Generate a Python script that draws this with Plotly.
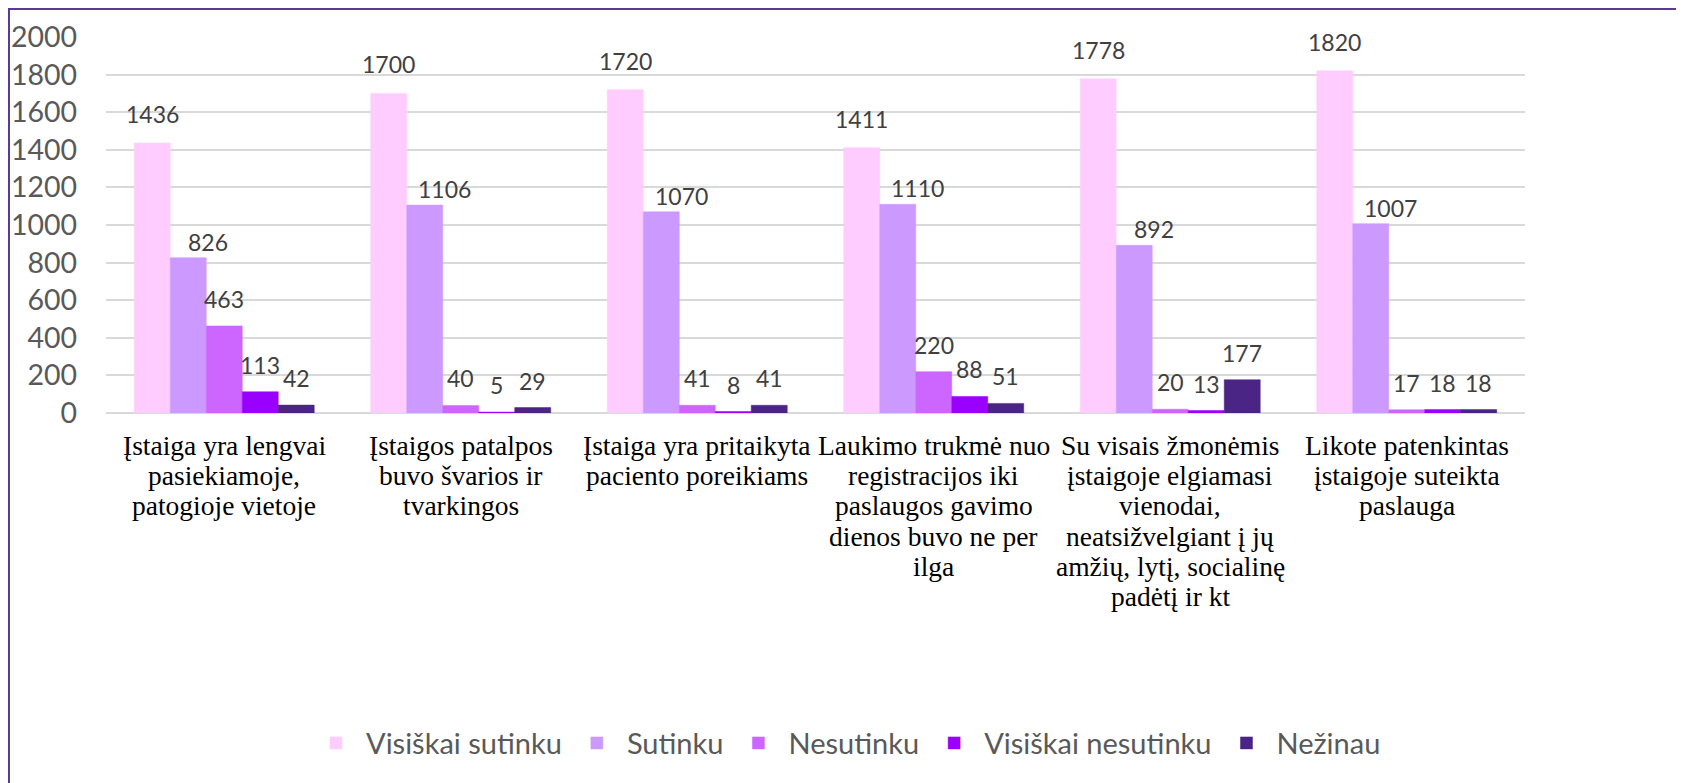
import plotly.graph_objects as go

categories = [
    "Įstaiga yra lengvai<br>pasiekiamoje,<br>patogioje vietoje",
    "Įstaigos patalpos<br>buvo švarios ir<br>tvarkingos",
    "Įstaiga yra pritaikyta<br>paciento poreikiams",
    "Laukimo trukmė nuo<br>registracijos iki<br>paslaugos gavimo<br>dienos buvo ne per<br>ilga",
    "Su visais žmonėmis<br>įstaigoje elgiamasi<br>vienodai,<br>neatsižvelgiant į jų<br>amžių, lytį, socialinę<br>padėtį ir kt",
    "Likote patenkintas<br>įstaigoje suteikta<br>paslauga",
]

series_names = ["Visiškai sutinku", "Sutinku", "Nesutinku", "Visiškai nesutinku", "Nežinau"]
visiskai_sutinku = [1436, 1700, 1720, 1411, 1778, 1820]
sutinku = [826, 1106, 1070, 1110, 892, 1007]
nesutinku = [463, 40, 41, 220, 20, 17]
visiskai_nesutinku = [113, 5, 8, 88, 13, 18]
nezinau = [42, 29, 41, 51, 177, 18]
series_values = [visiskai_sutinku, sutinku, nesutinku, visiskai_nesutinku, nezinau]
colors = ["#FFCCFF", "#CC99FF", "#CC66FF", "#9900FF", "#4B2585"]

y_ticks = [0, 200, 400, 600, 800, 1000, 1200, 1400, 1600, 1800, 2000]

# styling (page offset of 8px from the html body margin is compensated)
OFF = 8
W, H = 1684 - OFF, 783 - OFF
ML = 106 - OFF
PW = 1419
MR = W - ML - PW
MT = 37 - OFF
PH = 413.5 - 37
MB = H - MT - PH
BARGAP = 0.239
label_shift = {"Visiškai sutinku": (0, 29), "Sutinku": (20, 16)}   # (xshift, yshift) px
default_shift = (0, 27)
LINE_H = 30.2
FIRST_LINE = 446 - 413.5

fig = go.Figure()
for name, vals, col in zip(series_names, series_values, colors):
    fig.add_trace(go.Bar(
        name=name, x=categories, y=vals,
        marker=dict(color=col, line=dict(width=0.5, color=col)),
        hoverinfo="x+y",
    ))

annotations = []
n = len(series_names)
w = (1 - BARGAP) / n
for j, (name, vals) in enumerate(zip(series_names, series_values)):
    xs, ys = label_shift.get(name, default_shift)
    for i, v in enumerate(vals):
        annotations.append(dict(
            x=i + (j - (n - 1) / 2) * w, y=v, xref="x", yref="y",
            text=str(v), showarrow=False, xanchor="center", yanchor="middle",
            xshift=xs, yshift=ys,
            font=dict(family="Lato", size=23, color="#404040"),
        ))

for i, cat in enumerate(categories):
    for k, line in enumerate(cat.split("<br>")):
        annotations.append(dict(
            x=i, y=0, xref="x", yref="paper", text=line, showarrow=False,
            xanchor="center", yanchor="middle",
            yshift=-(FIRST_LINE + k * LINE_H),
            font=dict(family="Liberation Serif", size=27.5, color="black"),
        ))

fig.update_layout(
    width=W, height=H, autosize=False,
    margin=dict(l=ML, r=MR, t=MT, b=MB, pad=0, autoexpand=False),
    paper_bgcolor="white", plot_bgcolor="white",
    barmode="group", bargap=BARGAP, bargroupgap=0,
    showlegend=True,
    legend=dict(orientation="h", x=(846 - OFF - ML) / PW, xanchor="center",
                y=-(744 - 413.5) / PH, yanchor="middle",
                font=dict(family="Lato", size=29, color="#595959"),
                itemwidth=50, tracegroupgap=0),
    xaxis=dict(showline=False, ticks="", showgrid=False, showticklabels=False,
               automargin=False, range=[-0.5, len(categories) - 0.5]),
    yaxis=dict(range=[0, 2000], tickvals=y_ticks, showgrid=True, gridcolor="#D9D9D9",
               gridwidth=2, zeroline=True, zerolinecolor="#D9D9D9", zerolinewidth=2,
               showline=False, ticks="", automargin=False,
               tickfont=dict(family="Lato", size=28.5, color="#595959"),
               ticklabelstandoff=28),
    annotations=annotations,
    shapes=[dict(type="rect", xref="paper", yref="paper",
                 x0=(1 - ML) / PW, x1=(W + 20 - ML) / PW,
                 y0=-(H + 20 - MT - PH) / PH, y1=(MT + PH - 1) / PH,
                 line=dict(color="#5B3A96", width=2), fillcolor="rgba(0,0,0,0)",
                 layer="above")],
)

fig.write_html("out.html")
